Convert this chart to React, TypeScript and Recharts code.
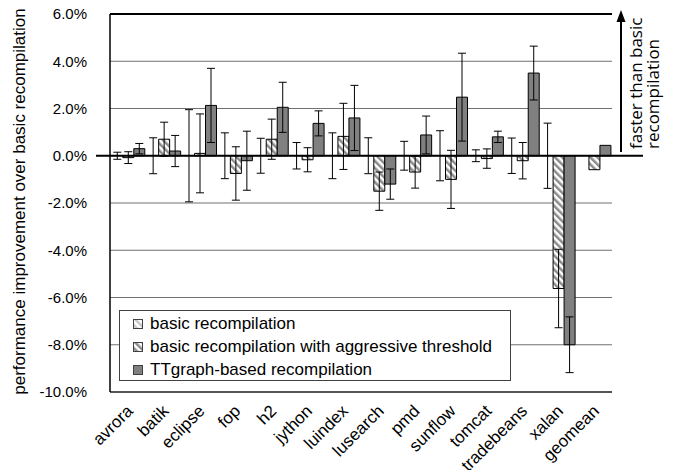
import React from 'react';
import { BarChart, Bar, XAxis, YAxis, CartesianGrid, ErrorBar, ReferenceLine } from 'recharts';

const categories = ['avrora', 'batik', 'eclipse', 'fop', 'h2', 'jython', 'luindex', 'lusearch', 'pmd', 'sunflow', 'tomcat', 'tradebeans', 'xalan', 'geomean'];
const basicValues = [0, 0, 0, 0, 0, 0, 0, 0, 0, 0, 0, 0, 0, 0];
const basicErrors = [0.15, 0.76, 1.95, 0.97, 0.74, 0.56, 0.97, 0.76, 0.61, 1.06, 0.25, 0.75, 1.38, 0];
const aggressiveValues = [-0.08, 0.7, 0.1, -0.75, 0.7, -0.17, 0.82, -1.5, -0.69, -1.0, -0.12, -0.21, -5.62, -0.59];
const aggressiveErrors = [0.25, 0.72, 1.67, 1.13, 0.85, 0.51, 1.4, 0.81, 0.68, 1.23, 0.41, 0.77, 1.66, 0];
const ttgraphValues = [0.3, 0.2, 2.13, -0.21, 2.05, 1.37, 1.6, -1.2, 0.88, 2.48, 0.8, 3.5, -8.0, 0.44];
const ttgraphErrors = [0.22, 0.66, 1.57, 1.25, 1.06, 0.53, 1.38, 0.64, 0.8, 1.86, 0.24, 1.14, 1.18, 0];
const yTicks = [-10, -8, -6, -4, -2, 0, 2, 4, 6];
const seriesNames = ['basic recompilation', 'basic recompilation with aggressive threshold', 'TTgraph-based recompilation'];
const yLabel = 'performance improvement over basic recompilation';
const noteLines = ['faster than basic', 'recompilation'];

// a zero-height bar is not laid out by the library, so a negligible height keeps its error bar
const ZERO_BAR = 1e-6;

const data = categories.map((name, i) => ({
  name,
  basic: basicValues[i] === 0 ? ZERO_BAR : basicValues[i],
  basicErr: basicErrors[i] || undefined,
  aggressive: aggressiveValues[i],
  aggressiveErr: aggressiveErrors[i] || undefined,
  ttgraph: ttgraphValues[i],
  ttgraphErr: ttgraphErrors[i] || undefined,
}));

const FONT = '"Liberation Sans", Arial, sans-serif';
const fills = ['url(#hatchLight)', 'url(#hatchDark)', '#808080'];

const XTick = (props: any) => {
  const { x, y, payload } = props;
  const tx = x + 6;
  const ty = y + 20;
  return (
    <text x={tx} y={ty} transform={`rotate(-45 ${tx} ${ty})`} textAnchor="end" fontSize={17} fontFamily={FONT} fill="#000">
      {payload.value}
    </text>
  );
};

const Swatch = ({ fill }: { fill: string }) => (
  <svg width={10} height={10} style={{ display: 'block' }}>
    <rect x={0.5} y={0.5} width={9} height={9} fill={fill} stroke="#404040" strokeWidth={1} />
  </svg>
);

export default function App() {
  return (
    <div style={{ position: 'absolute', left: 0, top: 0, width: 675, height: 470, background: '#fff' }}>
      <svg width={0} height={0} style={{ position: 'absolute' }}>
        <defs>
          <pattern id="hatchLight" patternUnits="userSpaceOnUse" width={5} height={5} patternTransform="rotate(-45)">
            <rect width={5} height={5} fill="#fff" />
            <rect width={2.5} height={5} fill="#c8c8c8" />
          </pattern>
          <pattern id="hatchDark" patternUnits="userSpaceOnUse" width={5} height={5} patternTransform="rotate(-45)">
            <rect width={5} height={5} fill="#fff" />
            <rect width={2.5} height={5} fill="#8c8c8c" />
          </pattern>
        </defs>
      </svg>
      <BarChart
        width={675}
        height={470}
        data={data}
        margin={{ top: 14, right: 63, left: 0, bottom: 0 }}
        barCategoryGap="5%"
        barGap={0}
      >
        <CartesianGrid vertical={false} stroke="#707070" strokeWidth={1} />
        <XAxis
          dataKey="name"
          height={78}
          tickSize={0}
          tickMargin={0}
          interval={0}
          tick={<XTick />}
          axisLine={{ stroke: '#333', strokeWidth: 1.5 }}
        />
        <YAxis
          width={110}
          domain={[-10, 6]}
          ticks={yTicks}
          tickSize={0}
          tickMargin={23}
          tickLine={false}
          tickFormatter={(v: number) => `${v.toFixed(1)}%`}
          tick={{ fontSize: 15, fontFamily: FONT, fill: '#000' }}
          axisLine={{ stroke: '#000', strokeWidth: 1.5 }}
          allowDataOverflow
        />
        <YAxis yAxisId="right" orientation="right" width={0} tick={false} tickLine={false} axisLine={{ stroke: '#808080', strokeWidth: 1 }} />
        <Bar dataKey="basic" name={seriesNames[0]} fill={fills[0]} stroke="none" isAnimationActive={false}>
          <ErrorBar dataKey="basicErr" width={4} stroke="#000" strokeWidth={1} direction="y" />
        </Bar>
        <Bar dataKey="aggressive" name={seriesNames[1]} fill={fills[1]} stroke="#000" strokeWidth={1} isAnimationActive={false}>
          <ErrorBar dataKey="aggressiveErr" width={4} stroke="#000" strokeWidth={1} direction="y" />
        </Bar>
        <Bar dataKey="ttgraph" name={seriesNames[2]} fill={fills[2]} stroke="#000" strokeWidth={1} isAnimationActive={false}>
          <ErrorBar dataKey="ttgraphErr" width={4} stroke="#000" strokeWidth={1} direction="y" />
        </Bar>
        <ReferenceLine y={6} stroke="#000" strokeWidth={2} />
        <ReferenceLine
          y={0}
          stroke="#000"
          strokeWidth={2}
          ifOverflow="visible"
          shape={(p: any) => <line x1={p.x1 - 14} y1={p.y1} x2={p.x2 + 31} y2={p.y2} stroke="#000" strokeWidth={2} />}
        />
      </BarChart>

      <svg width={675} height={470} style={{ position: 'absolute', left: 0, top: 0, pointerEvents: 'none' }}>
        <text x={25} y={201.5} transform="rotate(-90 25 201.5)" textAnchor="middle" fontSize={17} fontFamily={FONT} fill="#000">
          {yLabel}
        </text>
        <line x1={621} y1={152} x2={621} y2={20} stroke="#000" strokeWidth={2} />
        <polygon points="621,10 616.5,22 625.5,22" fill="#000" />
        <text x={642} y={149} transform="rotate(-90 642 149)" textAnchor="start" fontSize={17} fontFamily='"Open Sans", sans-serif' fill="#000">
          {noteLines[0]}
        </text>
        <text x={659} y={149} transform="rotate(-90 659 149)" textAnchor="start" fontSize={17} fontFamily='"Open Sans", sans-serif' fill="#000">
          {noteLines[1]}
        </text>
      </svg>

      <div
        style={{
          position: 'absolute',
          left: 119,
          top: 310,
          width: 392,
          height: 71,
          boxSizing: 'border-box',
          border: '1px solid #404040',
          background: '#fff',
          fontFamily: FONT,
          fontSize: 17,
          color: '#000',
        }}
      >
        {seriesNames.map((n, i) => (
          <div
            key={n}
            style={{ position: 'absolute', left: 13, top: 1 + i * 23, height: 23, display: 'flex', alignItems: 'center', whiteSpace: 'nowrap' }}
          >
            <Swatch fill={fills[i]} />
            <span style={{ marginLeft: 7 }}>{n}</span>
          </div>
        ))}
      </div>
    </div>
  );
}
